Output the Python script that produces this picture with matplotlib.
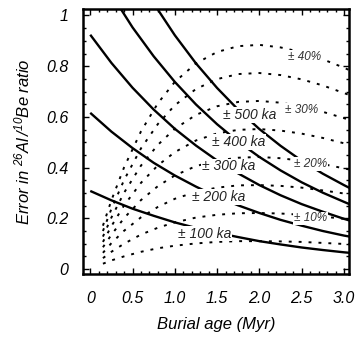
import matplotlib
matplotlib.use("Agg")
import matplotlib.pyplot as plt
from matplotlib.ticker import MultipleLocator

plt.rcParams['font.family'] = ['Liberation Sans', 'DejaVu Sans']
plt.rcParams['mathtext.fontset'] = 'custom'
plt.rcParams['mathtext.rm'] = 'Liberation Sans:italic'
plt.rcParams['mathtext.it'] = 'Liberation Sans:italic'

# burial age axis (Myr) for the age-error curves
age_x = [0, 0.25, 0.5, 0.75, 1.0, 1.25, 1.5, 1.75, 2.0, 2.25, 2.5, 2.75, 3.0, 3.1]
# ratio error giving a fixed age error
err_100ka = [0.308, 0.271, 0.238, 0.210, 0.184, 0.162, 0.143, 0.126, 0.110, 0.097, 0.085, 0.075, 0.066, 0.063]
err_200ka = [0.616, 0.542, 0.477, 0.419, 0.369, 0.325, 0.285, 0.251, 0.221, 0.194, 0.171, 0.150, 0.132, 0.126]
err_300ka = [0.924, 0.813, 0.715, 0.629, 0.553, 0.487, 0.428, 0.377, 0.331, 0.291, 0.256, 0.226, 0.198, 0.188]
err_400ka = [1.232, 1.084, 0.953, 0.839, 0.738, 0.649, 0.571, 0.502, 0.442, 0.389, 0.342, 0.301, 0.265, 0.251]
err_500ka = [1.540, 1.355, 1.192, 1.048, 0.922, 0.811, 0.714, 0.628, 0.552, 0.486, 0.427, 0.376, 0.331, 0.314]
ka_curves = [err_100ka, err_200ka, err_300ka, err_400ka, err_500ka]
ka_labels = ['± 100 ka', '± 200 ka', '± 300 ka', '± 400 ka', '± 500 ka']
ka_label_x = [1.35, 1.52, 1.64, 1.75, 1.89]
ka_label_y = [0.140, 0.285, 0.405, 0.500, 0.607]

# burial age axis for the relative-error curves
pct_x = [0.15, 0.25, 0.4, 0.6, 0.8, 1.0, 1.25, 1.5, 1.75, 2.0, 2.25, 2.5, 2.75, 3.0, 3.1]
err_5pct = [0.021, 0.034, 0.050, 0.068, 0.082, 0.092, 0.101, 0.107, 0.110, 0.110, 0.109, 0.107, 0.103, 0.099, 0.097]
err_10pct = [0.043, 0.068, 0.100, 0.136, 0.163, 0.184, 0.203, 0.214, 0.220, 0.221, 0.219, 0.214, 0.207, 0.198, 0.195]
err_15pct = [0.064, 0.102, 0.151, 0.204, 0.245, 0.277, 0.304, 0.321, 0.330, 0.331, 0.328, 0.321, 0.310, 0.298, 0.292]
err_20pct = [0.086, 0.135, 0.201, 0.272, 0.327, 0.369, 0.406, 0.428, 0.439, 0.442, 0.437, 0.427, 0.414, 0.397, 0.390]
err_25pct = [0.107, 0.169, 0.251, 0.340, 0.409, 0.461, 0.507, 0.535, 0.549, 0.552, 0.546, 0.534, 0.517, 0.496, 0.487]
err_30pct = [0.128, 0.203, 0.301, 0.408, 0.490, 0.553, 0.608, 0.642, 0.659, 0.663, 0.656, 0.641, 0.620, 0.595, 0.584]
err_35pct = [0.150, 0.237, 0.351, 0.476, 0.572, 0.646, 0.710, 0.749, 0.769, 0.773, 0.765, 0.748, 0.724, 0.694, 0.682]
err_40pct = [0.171, 0.271, 0.401, 0.543, 0.654, 0.738, 0.811, 0.856, 0.879, 0.884, 0.874, 0.855, 0.827, 0.794, 0.779]
pct_curves = [err_5pct, err_10pct, err_15pct, err_20pct, err_25pct, err_30pct, err_35pct, err_40pct]
pct_labels = ['± 10%', '± 20%', '± 30%', '± 40%']
pct_label_x = [2.60, 2.60, 2.50, 2.54]
pct_label_y = [0.200, 0.413, 0.626, 0.836]

xticks = [0, 0.5, 1.0, 1.5, 2.0, 2.5, 3.0]
xticklabels = ['0', '0.5', '1.0', '1.5', '2.0', '2.5', '3.0']
yticks = [0, 0.2, 0.4, 0.6, 0.8, 1.0]
yticklabels = ['0', '0.2', '0.4', '0.6', '0.8', '1']

fig = plt.figure(figsize=(3.58, 3.38), dpi=100)
ax = fig.add_axes([0.232, 0.189, 0.743, 0.784])

for ys in pct_curves:
    ax.plot(pct_x, ys, color='black', lw=1.4, linestyle=(0, (1.5, 3.6)))
for ys in ka_curves:
    ax.plot(age_x, ys, color='black', lw=1.7, solid_capstyle='butt')

box = dict(facecolor='white', edgecolor='none', pad=0.6)
for x, y, s in zip(ka_label_x, ka_label_y, ka_labels):
    ax.text(x, y, s, fontsize=10, style='italic', color='#222222',
            ha='center', va='center', bbox=box, zorder=5)
for x, y, s in zip(pct_label_x, pct_label_y, pct_labels):
    ax.text(x, y, s, fontsize=8.5, style='italic', color='#333333',
            ha='center', va='center', bbox=box, zorder=5)

ax.set_xlim(-0.085, 3.06)
ax.set_ylim(-0.02, 1.025)
ax.set_xticks(xticks)
ax.set_xticklabels(xticklabels, style='italic', fontsize=11.5)
ax.set_yticks(yticks)
ax.set_yticklabels(yticklabels, style='italic', fontsize=11.5)
ax.xaxis.set_minor_locator(MultipleLocator(0.1))
ax.yaxis.set_minor_locator(MultipleLocator(0.05))
ax.tick_params(which='both', direction='in', top=True, right=True, width=1.0)
ax.tick_params(which='major', length=4)
ax.tick_params(which='minor', length=2)
ax.tick_params(axis='x', which='major', pad=12)
ax.tick_params(axis='y', which='major', pad=10.5)
for sp in ax.spines.values():
    sp.set_linewidth(1.8)

ax.set_xlabel('Burial age (Myr)', style='italic', fontsize=12)
ax.set_ylabel(r'Error in $^{26}$Al$\,$/$^{10}$Be ratio', style='italic', fontsize=12)
ax.xaxis.set_label_coords(0.5, -0.16)
ax.yaxis.set_label_coords(-0.19, 0.5)

fig.savefig('out.png', dpi=100)
